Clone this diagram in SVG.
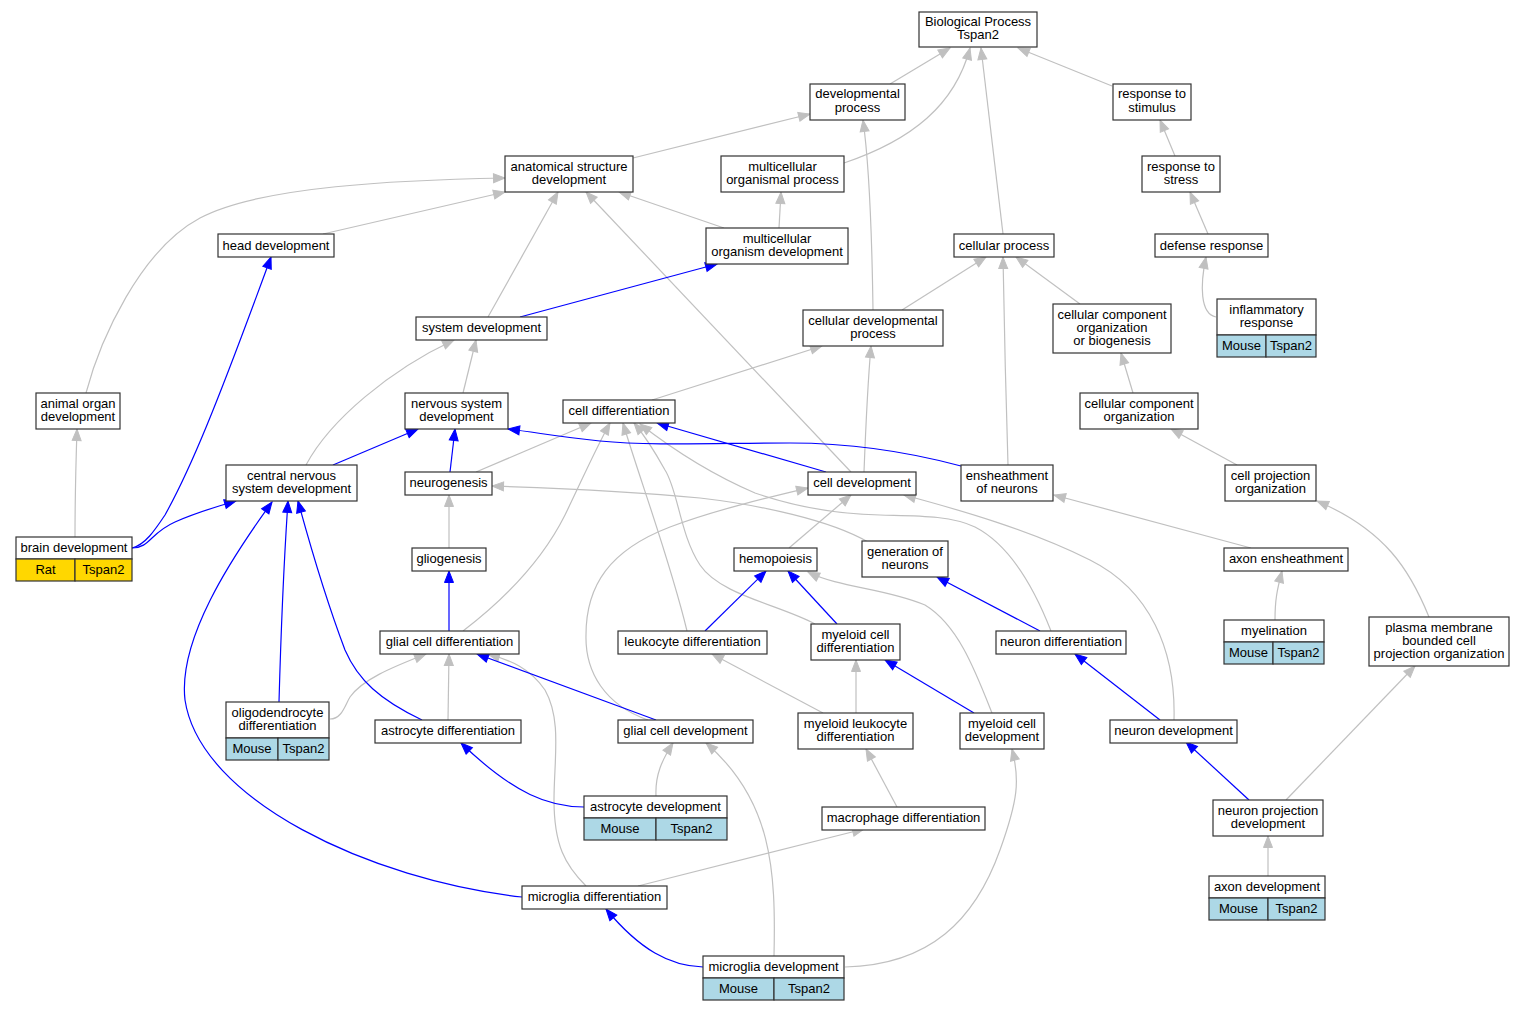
<svg xmlns="http://www.w3.org/2000/svg" width="1525" height="1011" viewBox="0 0 1525 1011">
<style>
.n rect{fill:#fff;stroke:#333;stroke-width:1.2}
.n rect.m{fill:#add8e6}
.n rect.r{fill:#ffd700}
text{font-family:"Liberation Sans",Arial,sans-serif;font-size:13px;text-anchor:middle;fill:#000}
.g{fill:none;stroke:#c0c0c0;stroke-width:1.2;marker-end:url(#ag)}
.b{fill:none;stroke:#0000ff;stroke-width:1.2;marker-end:url(#ab)}
</style>
<defs>
<marker id="ag" markerUnits="userSpaceOnUse" markerWidth="14" markerHeight="12" viewBox="-1 -1 14 12" refX="11.5" refY="5" orient="auto"><path d="M0,0.5 L11.5,5 L0,9.5 Z" fill="#c0c0c0" stroke="#c0c0c0" stroke-width="1"/></marker>
<marker id="ab" markerUnits="userSpaceOnUse" markerWidth="14" markerHeight="12" viewBox="-1 -1 14 12" refX="11.5" refY="5" orient="auto"><path d="M0,0.5 L11.5,5 L0,9.5 Z" fill="#0000ff" stroke="#0000ff" stroke-width="1"/></marker>
</defs>
<rect width="1525" height="1011" fill="#fff"/>
<g id="edges">
<path class="g" d="M890,84 L950,48"/>
<path class="g" d="M844,163 C912,140 955,105 970,48"/>
<path class="g" d="M1003,234 L981,48"/>
<path class="g" d="M1112,86 L1018,48"/>
<path class="g" d="M633,158 L810,114"/>
<path class="g" d="M873,310 C872,240 870,170 863,120"/>
<path class="g" d="M1175,156 L1160,120"/>
<path class="g" d="M86,393 C100,340 140,250 200,218 C260,186 400,180 505,178"/>
<path class="g" d="M323,234 L505,192"/>
<path class="g" d="M488,317 L558,192"/>
<path class="g" d="M851,472 L586,192"/>
<path class="g" d="M724,228 L619,192"/>
<path class="g" d="M779,228 L781,192"/>
<path class="g" d="M902,310 L986,257"/>
<path class="g" d="M1008,465 C1006,400 1004,320 1003,257"/>
<path class="g" d="M1080,304 L1016,257"/>
<path class="g" d="M1208,234 L1190,192"/>
<path class="g" d="M1216,317 C1200,314 1200,285 1206,257"/>
<path class="g" d="M1133,393 L1121,353"/>
<path class="g" d="M463,393 L476,340"/>
<path class="g" d="M306,465 C330,420 390,370 454,340"/>
<path class="g" d="M652,400 L822,346"/>
<path class="g" d="M864,472 C866,420 868,380 871,346"/>
<path class="g" d="M1237,465 L1171,429"/>
<path class="g" d="M476,472 L591,423"/>
<path class="g" d="M463,631 C510,595 545,555 565,515 C582,480 595,450 610,423"/>
<path class="g" d="M687,631 C670,560 640,480 623,423"/>
<path class="g" d="M815,624 C780,605 720,595 700,565 C680,535 678,490 665,470 C655,452 645,436 634,423"/>
<path class="g" d="M1051,631 C1035,590 1010,545 975,527 C950,515 915,516 880,515 C830,514 790,505 755,493 C720,478 680,455 640,424"/>
<path class="g" d="M789,548 L851,495"/>
<path class="g" d="M648,720 C605,705 585,672 586,635 C586,585 610,550 670,527 C715,510 770,497 808,488"/>
<path class="g" d="M1174,720 C1176,650 1150,590 1090,560 C1030,530 960,510 904,495"/>
<path class="g" d="M868,542 C830,520 760,505 700,498 C620,490 550,488 492,486"/>
<path class="g" d="M449,548 L449,495"/>
<path class="g" d="M448,720 L449,654"/>
<path class="g" d="M330,719 C342,719 345,705 350,697 C362,680 390,668 426,654"/>
<path class="g" d="M586,886 C565,865 554,845 554,800 C554,760 562,720 545,690 C530,668 510,660 488,654"/>
<path class="g" d="M656,796 C655,775 662,760 673,743"/>
<path class="g" d="M774,956 C776,870 772,800 706,743"/>
<path class="g" d="M845,967 C930,965 975,920 1000,850 C1018,800 1020,780 1012,749"/>
<path class="g" d="M897,807 L866,749"/>
<path class="g" d="M638,886 L864,829"/>
<path class="g" d="M823,713 L712,654"/>
<path class="g" d="M856,713 L856,660"/>
<path class="g" d="M992,713 C975,670 958,625 925,605 C885,588 840,588 808,572"/>
<path class="g" d="M1251,548 L1054,495"/>
<path class="g" d="M1275,620 C1275,600 1277,590 1282,571"/>
<path class="g" d="M1429,617 C1410,570 1385,530 1317,501"/>
<path class="g" d="M1286,800 L1415,666"/>
<path class="g" d="M1268,876 L1268,836"/>
<path class="g" d="M75,537 C75,500 76,460 77,429"/>
<path class="b" d="M826,472 L657,423"/>
<path class="b" d="M656,720 L477,654"/>
<path class="b" d="M584,807 C550,807 515,795 461,743"/>
<path class="b" d="M703,967 C670,966 640,950 606,909"/>
<path class="b" d="M522,897 C370,880 200,800 185,700 C178,640 230,560 272,502"/>
<path class="b" d="M279,702 C281,630 284,560 288,501"/>
<path class="b" d="M422,720 C380,700 358,680 345,650 C328,605 310,545 298,501"/>
<path class="b" d="M132,548 C150,548 150,533 175,522 C195,513 215,507 236,501"/>
<path class="b" d="M132,548 C145,545 155,530 165,515 C190,470 215,410 271,257"/>
<path class="b" d="M333,465 L418,429"/>
<path class="b" d="M450,472 L455,429"/>
<path class="b" d="M961,466 C920,455 860,443 790,443 C720,443 650,446 600,441 C560,437 540,433 508,429"/>
<path class="b" d="M449,631 L449,571"/>
<path class="b" d="M705,631 L766,571"/>
<path class="b" d="M837,624 L788,571"/>
<path class="b" d="M1040,631 L937,577"/>
<path class="b" d="M974,713 L885,660"/>
<path class="b" d="M1160,720 L1075,654"/>
<path class="b" d="M1249,800 L1186,742"/>
<path class="b" d="M520,317 L717,264"/>
</g>
<g id="bp" class="n"><rect x="919" y="12" width="118" height="35"/><text x="978" y="26">Biological Process</text><text x="978" y="39">Tspan2</text></g>
<g id="devproc" class="n"><rect x="810" y="84" width="95" height="36"/><text x="857.5" y="98">developmental</text><text x="857.5" y="111.5">process</text></g>
<g id="respstim" class="n"><rect x="1113" y="84" width="78" height="36"/><text x="1152" y="98">response to</text><text x="1152" y="111.5">stimulus</text></g>
<g id="anat" class="n"><rect x="505" y="156" width="128" height="36"/><text x="569" y="170.5">anatomical structure</text><text x="569" y="183.5">development</text></g>
<g id="mop" class="n"><rect x="721" y="156" width="123" height="36"/><text x="782.5" y="170.5">multicellular</text><text x="782.5" y="183.5">organismal process</text></g>
<g id="respstress" class="n"><rect x="1142" y="156" width="78" height="36"/><text x="1181" y="170.5">response to</text><text x="1181" y="183.5">stress</text></g>
<g id="headdev" class="n"><rect x="218" y="234" width="116" height="23"/><text x="276" y="249.5">head development</text></g>
<g id="mod" class="n"><rect x="706" y="228" width="142" height="36"/><text x="777" y="242.5">multicellular</text><text x="777" y="255.5">organism development</text></g>
<g id="cellproc" class="n"><rect x="954" y="234" width="100" height="23"/><text x="1004" y="249.5">cellular process</text></g>
<g id="defresp" class="n"><rect x="1155" y="234" width="113" height="23"/><text x="1211.5" y="249.5">defense response</text></g>
<g id="sysdev" class="n"><rect x="416" y="317" width="131" height="23"/><text x="481.5" y="332">system development</text></g>
<g id="cdp" class="n"><rect x="803" y="310" width="140" height="36"/><text x="873" y="324.5">cellular developmental</text><text x="873" y="337.5">process</text></g>
<g id="ccob" class="n"><rect x="1053" y="304" width="118" height="49"/><text x="1112" y="318.5">cellular component</text><text x="1112" y="331.8">organization</text><text x="1112" y="345">or biogenesis</text></g>
<g id="inflam" class="n"><rect x="1217" y="299" width="99" height="36"/><rect class="m" x="1217" y="335" width="49" height="22"/><rect class="m" x="1266" y="335" width="50" height="22"/><text x="1266.5" y="313.5">inflammatory</text><text x="1266.5" y="326.5">response</text><text x="1241.5" y="349.5">Mouse</text><text x="1291" y="349.5">Tspan2</text></g>
<g id="aod" class="n"><rect x="36" y="393" width="84" height="36"/><text x="78" y="407.5">animal organ</text><text x="78" y="420.5">development</text></g>
<g id="nsd" class="n"><rect x="405" y="393" width="103" height="36"/><text x="456.5" y="407.5">nervous system</text><text x="456.5" y="420.5">development</text></g>
<g id="celldiff" class="n"><rect x="563" y="400" width="112" height="23"/><text x="619" y="415">cell differentiation</text></g>
<g id="cco" class="n"><rect x="1080" y="393" width="118" height="36"/><text x="1139" y="407.5">cellular component</text><text x="1139" y="420.5">organization</text></g>
<g id="cnsd" class="n"><rect x="226" y="465" width="131" height="36"/><text x="291.5" y="479.5">central nervous</text><text x="291.5" y="492.5">system development</text></g>
<g id="neurog" class="n"><rect x="405" y="472" width="87" height="23"/><text x="448.5" y="487">neurogenesis</text></g>
<g id="celldev" class="n"><rect x="808" y="472" width="108" height="23"/><text x="862" y="487">cell development</text></g>
<g id="ensh" class="n"><rect x="961" y="465" width="92" height="36"/><text x="1007" y="479.5">ensheathment</text><text x="1007" y="492.5">of neurons</text></g>
<g id="cpo" class="n"><rect x="1225" y="465" width="91" height="36"/><text x="1270.5" y="479.5">cell projection</text><text x="1270.5" y="492.5">organization</text></g>
<g id="braindev" class="n"><rect x="16" y="537" width="116" height="22"/><rect class="r" x="16" y="559" width="59" height="22"/><rect class="r" x="75" y="559" width="57" height="22"/><text x="74" y="551.5">brain development</text><text x="45.5" y="573.5">Rat</text><text x="103.5" y="573.5">Tspan2</text></g>
<g id="gliog" class="n"><rect x="412" y="548" width="74" height="23"/><text x="449" y="563">gliogenesis</text></g>
<g id="hemo" class="n"><rect x="734" y="548" width="83" height="23"/><text x="775.5" y="563">hemopoiesis</text></g>
<g id="genneur" class="n"><rect x="862" y="541" width="86" height="36"/><text x="905" y="555.5">generation of</text><text x="905" y="568.5">neurons</text></g>
<g id="axonens" class="n"><rect x="1224" y="548" width="124" height="23"/><text x="1286" y="563">axon ensheathment</text></g>
<g id="gcd" class="n"><rect x="380" y="631" width="139" height="23"/><text x="449.5" y="646">glial cell differentiation</text></g>
<g id="leukdiff" class="n"><rect x="618" y="631" width="149" height="23"/><text x="692.5" y="646">leukocyte differentiation</text></g>
<g id="mcd" class="n"><rect x="811" y="624" width="89" height="36"/><text x="855.5" y="638.5">myeloid cell</text><text x="855.5" y="651.5">differentiation</text></g>
<g id="neurdiff" class="n"><rect x="996" y="631" width="130" height="23"/><text x="1061" y="646">neuron differentiation</text></g>
<g id="myelin" class="n"><rect x="1224" y="620" width="100" height="22"/><rect class="m" x="1224" y="642" width="49" height="22"/><rect class="m" x="1273" y="642" width="51" height="22"/><text x="1274" y="634.5">myelination</text><text x="1248.5" y="656.5">Mouse</text><text x="1298.5" y="656.5">Tspan2</text></g>
<g id="pmbcpo" class="n"><rect x="1369" y="617" width="140" height="49"/><text x="1439" y="631.5">plasma membrane</text><text x="1439" y="644.8">bounded cell</text><text x="1439" y="658">projection organization</text></g>
<g id="oligo" class="n"><rect x="226" y="702" width="103" height="36"/><rect class="m" x="226" y="738" width="52" height="22"/><rect class="m" x="278" y="738" width="51" height="22"/><text x="277.5" y="716.5">oligodendrocyte</text><text x="277.5" y="729.5">differentiation</text><text x="252" y="752.5">Mouse</text><text x="303.5" y="752.5">Tspan2</text></g>
<g id="astrodiff" class="n"><rect x="375" y="720" width="146" height="23"/><text x="448" y="735">astrocyte differentiation</text></g>
<g id="gcdev" class="n"><rect x="618" y="720" width="135" height="23"/><text x="685.5" y="735">glial cell development</text></g>
<g id="mld" class="n"><rect x="798" y="713" width="115" height="36"/><text x="855.5" y="727.5">myeloid leukocyte</text><text x="855.5" y="740.5">differentiation</text></g>
<g id="mcdev" class="n"><rect x="960" y="713" width="84" height="36"/><text x="1002" y="727.5">myeloid cell</text><text x="1002" y="740.5">development</text></g>
<g id="neurdev" class="n"><rect x="1110" y="720" width="127" height="23"/><text x="1173.5" y="735">neuron development</text></g>
<g id="astrodev" class="n"><rect x="584" y="796" width="143" height="22"/><rect class="m" x="584" y="818" width="72" height="22"/><rect class="m" x="656" y="818" width="71" height="22"/><text x="655.5" y="810.5">astrocyte development</text><text x="620" y="832.5">Mouse</text><text x="691.5" y="832.5">Tspan2</text></g>
<g id="macro" class="n"><rect x="822" y="807" width="163" height="23"/><text x="903.5" y="822">macrophage differentiation</text></g>
<g id="npd" class="n"><rect x="1213" y="800" width="110" height="36"/><text x="1268" y="814.5">neuron projection</text><text x="1268" y="827.5">development</text></g>
<g id="microdiff" class="n"><rect x="522" y="886" width="145" height="23"/><text x="594.5" y="901">microglia differentiation</text></g>
<g id="axondev" class="n"><rect x="1209" y="876" width="116" height="22"/><rect class="m" x="1209" y="898" width="59" height="22"/><rect class="m" x="1268" y="898" width="57" height="22"/><text x="1267" y="890.5">axon development</text><text x="1238.5" y="912.5">Mouse</text><text x="1296.5" y="912.5">Tspan2</text></g>
<g id="microdev" class="n"><rect x="703" y="956" width="141" height="22"/><rect class="m" x="703" y="978" width="71" height="22"/><rect class="m" x="774" y="978" width="70" height="22"/><text x="773.5" y="970.5">microglia development</text><text x="738.5" y="992.5">Mouse</text><text x="809" y="992.5">Tspan2</text></g>
</svg>
